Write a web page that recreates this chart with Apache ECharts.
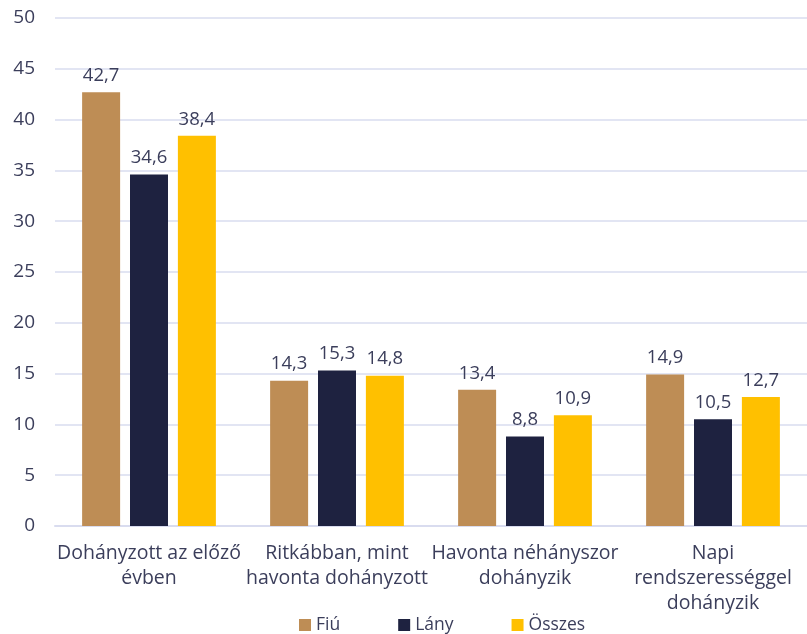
<!DOCTYPE html>
<html>
<head>
<meta charset="utf-8">
<script src="https://cdn.jsdelivr.net/npm/echarts@6/dist/echarts.min.js"></script>
<style>
  html, body { margin: 0; padding: 0; background: #fff; }
  #chart { width: 807px; height: 634px; }
</style>
</head>
<body>
<div id="chart"></div>
<script>
// Smoking frequency by gender (%)
const categories = [
  'Dohányzott az előző\névben',
  'Ritkábban, mint\nhavonta dohányzott',
  'Havonta néhányszor\ndohányzik',
  'Napi\nrendszerességgel\ndohányzik'
];
const seriesNames = ['Fiú', 'Lány', 'Összes'];
const fiu = [42.7, 14.3, 13.4, 14.9];
const lany = [34.6, 15.3, 8.8, 10.5];
const osszes = [38.4, 14.8, 10.9, 12.7];
const colors = ['#be8d55', '#1e2240', '#ffc000'];

const textColor = '#3b3e5b';
const fontFamily = '"Open Sans", "Noto Sans", sans-serif';

const chart = echarts.init(document.getElementById('chart'));

const makeSeries = (name, data, color) => ({
  name: name,
  type: 'bar',
  data: data,
  barWidth: 38,
  barGap: '26%',
  itemStyle: { color: color },
  label: {
    show: true,
    position: 'top',
    distance: 7,
    color: textColor,
    fontSize: 18.5,
    fontFamily: fontFamily,
    formatter: p => String(p.value).replace('.', ',')
  }
});

chart.setOption({
  animation: false,
  grid: { left: 55, right: 0, top: 18, bottom: 108 },
  legend: {
    top: 616,
    left: 299,
    padding: 0,
    itemWidth: 12,
    itemHeight: 12,
    itemGap: 58,
    icon: 'rect',
    textStyle: { color: textColor, fontSize: 17.5, fontFamily: fontFamily },
    data: seriesNames
  },
  xAxis: {
    type: 'category',
    data: categories,
    axisTick: { show: false },
    axisLine: { lineStyle: { color: '#d9dcef', width: 2 } },
    axisLabel: {
      color: textColor,
      fontSize: 19.5,
      fontFamily: fontFamily,
      lineHeight: 25,
      margin: 15,
      interval: 0
    }
  },
  yAxis: {
    type: 'value',
    min: 0,
    max: 50,
    interval: 5,
    axisLine: { show: false },
    axisTick: { show: false },
    splitLine: { lineStyle: { color: '#d9dcef', width: 1.5 } },
    axisLabel: {
      color: textColor,
      fontSize: 19,
      fontFamily: fontFamily,
      margin: 20
    }
  },
  series: [
    makeSeries(seriesNames[0], fiu, colors[0]),
    makeSeries(seriesNames[1], lany, colors[1]),
    makeSeries(seriesNames[2], osszes, colors[2])
  ]
});
</script>
</body>
</html>
